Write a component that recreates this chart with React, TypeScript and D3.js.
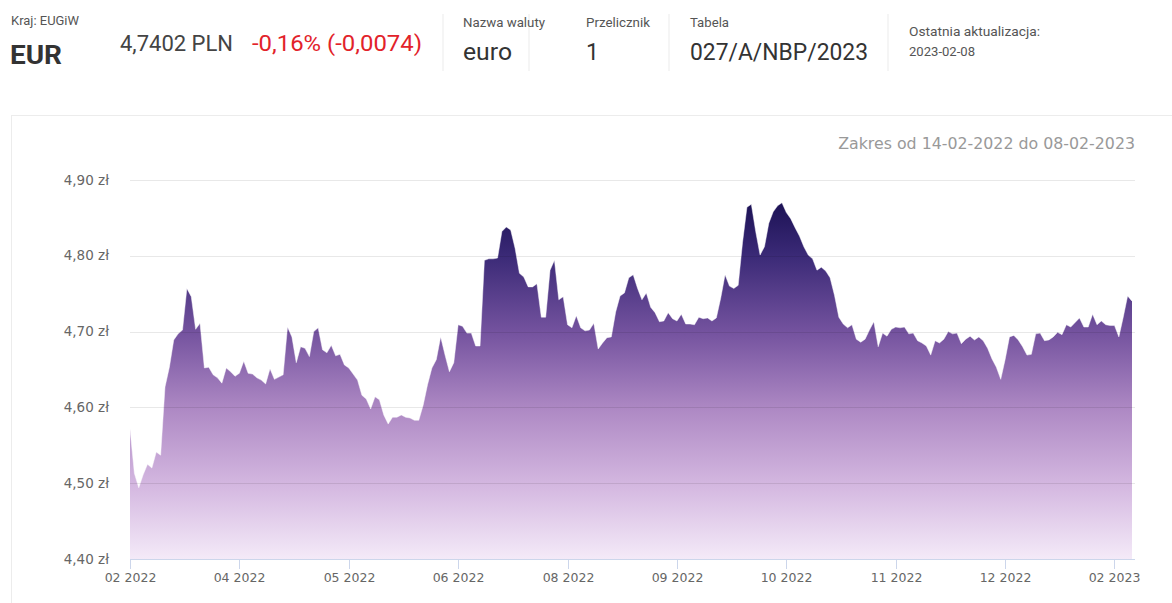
import React from "react";
import * as d3 from "d3";

const rates: number[] = [
  4.5715, 4.513, 4.494, 4.511, 4.525, 4.52, 4.541, 4.537, 4.627, 4.653, 4.689, 4.697, 4.702, 4.757, 4.746, 4.703,
  4.711, 4.652, 4.653, 4.643, 4.639, 4.632, 4.652, 4.647, 4.641, 4.645, 4.661, 4.645, 4.644, 4.639, 4.636, 4.631,
  4.651, 4.637, 4.64, 4.643, 4.706, 4.693, 4.659, 4.68, 4.678, 4.667, 4.7, 4.705, 4.676, 4.672, 4.682, 4.668,
  4.67, 4.656, 4.652, 4.644, 4.636, 4.616, 4.611, 4.598,
  4.614, 4.61, 4.59, 4.578, 4.587, 4.587, 4.59, 4.587, 4.586, 4.583, 4.583, 4.603, 4.63, 4.652, 4.663, 4.693,
  4.669, 4.647, 4.659, 4.709, 4.707, 4.698, 4.698, 4.681, 4.681, 4.794, 4.796, 4.796, 4.797, 4.832, 4.838, 4.834,
  4.81, 4.777, 4.772, 4.759, 4.759, 4.763, 4.719, 4.719, 4.781, 4.794, 4.742, 4.746, 4.709, 4.705, 4.721, 4.705,
  4.701, 4.702, 4.711, 4.677, 4.685, 4.692, 4.693, 4.726, 4.747,
  4.751, 4.771, 4.775, 4.757, 4.742, 4.751, 4.732, 4.725, 4.713, 4.714, 4.725, 4.717, 4.714, 4.723, 4.71, 4.71,
  4.709, 4.719, 4.717, 4.718, 4.714, 4.718, 4.744, 4.775, 4.76, 4.757, 4.761, 4.818, 4.864, 4.868, 4.832, 4.801,
  4.812, 4.843, 4.858, 4.866, 4.87, 4.857, 4.849, 4.837, 4.826, 4.812, 4.801, 4.796, 4.781, 4.785, 4.78, 4.771,
  4.748, 4.719, 4.71, 4.705, 4.709, 4.69, 4.686, 4.69, 4.702,
  4.713, 4.68, 4.698, 4.694, 4.703, 4.706, 4.705, 4.706, 4.697, 4.698, 4.688, 4.685, 4.681, 4.669, 4.688, 4.685,
  4.69, 4.7, 4.697, 4.698, 4.684, 4.69, 4.694, 4.689, 4.693, 4.688, 4.678, 4.664, 4.653, 4.637, 4.663, 4.693,
  4.695, 4.689, 4.68, 4.669, 4.67, 4.697, 4.698, 4.688, 4.689, 4.693, 4.699, 4.696, 4.709, 4.706, 4.712, 4.718,
  4.706, 4.706, 4.723, 4.709, 4.714, 4.709, 4.708, 4.708, 4.693, 4.719, 4.747, 4.7402,
];

const xTickLabels: string[] = [
  "02 2022", "04 2022", "05 2022", "06 2022", "08 2022", "09 2022", "10 2022", "11 2022", "12 2022", "02 2023",
];
const xTickStep = 25;
const yTicks: number[] = [4.4, 4.5, 4.6, 4.7, 4.8, 4.9];

const headerFont = "Roboto, 'Open Sans', sans-serif";
const chartFont = "'DejaVu Sans', Verdana, sans-serif";

export default function App() {
  const left = 130;
  const right = 1135;
  const top = 180;
  const bottom = 559;
  const n = rates.length;
  const x = d3.scaleLinear().domain([0, n - 1]).range([left, 1132]);
  const y = d3.scaleLinear().domain([4.4, 4.9]).range([bottom, top]);
  const area = d3
    .area<number>()
    .x((_, i) => x(i))
    .y0(bottom)
    .y1((d) => y(d));
  const line = d3
    .line<number>()
    .x((_, i) => x(i))
    .y((d) => y(d));
  const maxV = d3.max(rates) as number;
  const fmt = (v: number) => v.toFixed(2).replace(".", ",") + " zł";
  const seps = [443, 529, 669, 888];

  return (
    <svg
      width={1172}
      height={603}
      style={{ position: "absolute", left: 0, top: 0, background: "#fff" }}
    >
      <defs>
        <linearGradient id="fillG" gradientUnits="userSpaceOnUse" x1={0} x2={0} y1={y(maxV)} y2={bottom}>
          <stop offset="0" stopColor="#1c1255" />
          <stop offset="0.15" stopColor="#3b2a77" />
          <stop offset="0.37" stopColor="#7654a0" />
          <stop offset="0.58" stopColor="#ae89c4" />
          <stop offset="0.8" stopColor="#d5b9e1" />
          <stop offset="1" stopColor="#f4eaf8" />
        </linearGradient>
      </defs>

      {/* Header */}
      <g fontFamily={headerFont}>
        <text x={11} y={25} fontSize={12.5} fill="#555" textLength={68} lengthAdjust="spacingAndGlyphs">Kraj: EUGiW</text>
        <text x={10} y={64} fontSize={26} fontWeight="bold" fill="#333" textLength={52} lengthAdjust="spacingAndGlyphs">EUR</text>
        <text x={120} y={51} fontSize={22} fill="#444" textLength={113} lengthAdjust="spacingAndGlyphs">4,7402 PLN</text>
        <text x={252} y={51} fontSize={22} fill="#e2222a" textLength={170} lengthAdjust="spacingAndGlyphs">-0,16% (-0,0074)</text>
        {seps.map((s) => (
          <line key={s} x1={s} x2={s} y1={14} y2={71} stroke="#ebebeb" />
        ))}
        <text x={463} y={27} fontSize={13} fill="#555" textLength={82} lengthAdjust="spacingAndGlyphs">Nazwa waluty</text>
        <text x={463} y={60} fontSize={23} fill="#333" textLength={49} lengthAdjust="spacingAndGlyphs">euro</text>
        <text x={586} y={27} fontSize={13} fill="#555" textLength={64} lengthAdjust="spacingAndGlyphs">Przelicznik</text>
        <text x={586} y={60} fontSize={23} fill="#333">1</text>
        <text x={690} y={27} fontSize={13} fill="#555" textLength={39} lengthAdjust="spacingAndGlyphs">Tabela</text>
        <text x={690} y={60} fontSize={23} fill="#333" textLength={178} lengthAdjust="spacingAndGlyphs">027/A/NBP/2023</text>
        <text x={909} y={36} fontSize={13} fill="#555" textLength={131} lengthAdjust="spacingAndGlyphs">Ostatnia aktualizacja:</text>
        <text x={909} y={56} fontSize={12.5} fill="#555" textLength={66} lengthAdjust="spacingAndGlyphs">2023-02-08</text>
      </g>

      {/* Card */}
      <rect x={11.5} y={115.5} width={1200} height={520} fill="none" stroke="#ececec" />

      <g fontFamily={chartFont}>
        <text x={right} y={148.5} textAnchor="end" fontSize={15.8} fill="#999">
          Zakres od 14-02-2022 do 08-02-2023
        </text>

        <path d={area(rates) as string} fill="url(#fillG)" />
        <path d={line(rates) as string} fill="none" stroke="rgba(255,255,255,0.45)" strokeWidth={1} />

        {yTicks.slice(1).map((t) => (
          <line key={t} x1={left} x2={right} y1={Math.round(y(t)) + 0.5} y2={Math.round(y(t)) + 0.5} stroke="rgba(0,0,0,0.09)" />
        ))}
        {yTicks.map((t) => (
          <text key={t} x={109} y={y(t) + 4.5} textAnchor="end" fontSize={13.5} fill="#666">
            {fmt(t)}
          </text>
        ))}

        <line x1={left} x2={right} y1={bottom + 0.5} y2={bottom + 0.5} stroke="#ccd6eb" />
        {xTickLabels.map((lab, i) => {
          const xi = Math.round(x(i * xTickStep)) + 0.5;
          return (
            <g key={lab + i}>
              <line x1={xi} x2={xi} y1={bottom} y2={bottom + 10} stroke="#ccd6eb" />
              <text x={xi} y={582} textAnchor="middle" fontSize={12.5} fill="#666">
                {lab}
              </text>
            </g>
          );
        })}
      </g>
    </svg>
  );
}
